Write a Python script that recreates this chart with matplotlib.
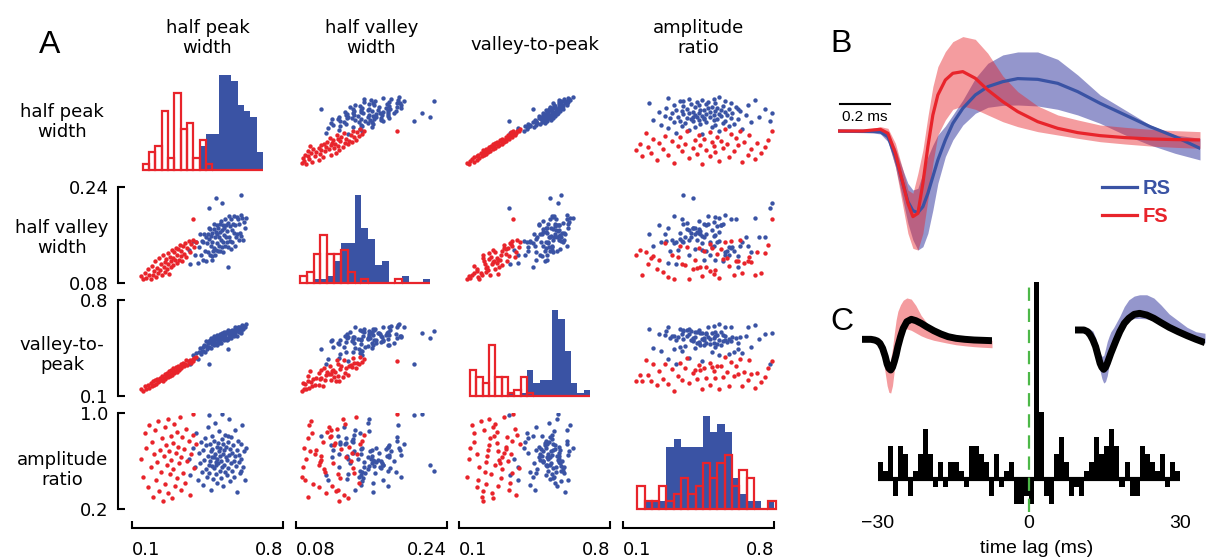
#!/usr/bin/env python3

import numpy as np
import matplotlib
matplotlib.use('Agg')
import matplotlib.pyplot as plt

# canvas in pixels, saved at dpi 100
W = 1207
H = 560

RED = '#E8242B'
BLUE = '#3A53A4'
BAND_BLUE = '#2B2E9A'
GREEN = '#4DB848'

# ---- spike waveform features, one entry per unit
# FS units (red)
fs_hpw = [0.142, 0.151, 0.158, 0.167, 0.174, 0.181, 0.188, 0.193, 0.199, 0.204,
	0.207, 0.213, 0.218, 0.222, 0.227, 0.231, 0.236, 0.239, 0.244, 0.247,
	0.251, 0.254, 0.258, 0.262, 0.265, 0.268, 0.272, 0.275, 0.279, 0.283,
	0.286, 0.289, 0.292, 0.296, 0.299, 0.303, 0.307, 0.310, 0.314, 0.318,
	0.322, 0.325, 0.329, 0.334, 0.338, 0.343, 0.348, 0.352, 0.357, 0.362,
	0.368, 0.374, 0.381, 0.388, 0.397, 0.383]
fs_hvw = [0.091, 0.086, 0.097, 0.088, 0.104, 0.094, 0.087, 0.109, 0.093, 0.100,
	0.117, 0.090, 0.105, 0.096, 0.122, 0.101, 0.111, 0.093, 0.126, 0.107,
	0.115, 0.098, 0.120, 0.104, 0.130, 0.112, 0.095, 0.124, 0.117, 0.106,
	0.135, 0.121, 0.110, 0.132, 0.118, 0.139, 0.113, 0.127, 0.136, 0.119,
	0.144, 0.125, 0.133, 0.116, 0.141, 0.128, 0.147, 0.123, 0.138, 0.150,
	0.131, 0.145, 0.152, 0.140, 0.148, 0.187]
fs_vtp = [0.148, 0.139, 0.171, 0.152, 0.183, 0.161, 0.195, 0.170, 0.206, 0.183,
	0.214, 0.190, 0.223, 0.201, 0.212, 0.234, 0.219, 0.246, 0.213, 0.232,
	0.258, 0.226, 0.241, 0.266, 0.237, 0.252, 0.279, 0.248, 0.262, 0.287,
	0.256, 0.274, 0.301, 0.268, 0.283, 0.309, 0.276, 0.296, 0.318, 0.289,
	0.307, 0.331, 0.301, 0.322, 0.344, 0.317, 0.335, 0.359, 0.328, 0.348,
	0.362, 0.341, 0.369, 0.376, 0.384, 0.352]
fs_amp = [0.62, 0.47, 0.83, 0.71, 0.38, 0.90, 0.55, 0.76, 0.30, 0.66,
	0.86, 0.44, 0.59, 0.93, 0.35, 0.69, 0.51, 0.79, 0.27, 0.64,
	0.88, 0.41, 0.73, 0.57, 0.95, 0.33, 0.68, 0.49, 0.81, 0.61,
	0.29, 0.75, 0.53, 0.91, 0.39, 0.67, 0.84, 0.46, 0.72, 0.58,
	0.97, 0.36, 0.63, 0.80, 0.50, 0.70, 0.42, 0.87, 0.60, 0.77,
	0.32, 0.66, 0.82, 0.54, 0.74, 0.99]

# RS units (blue)
rs_hpw = [0.362, 0.371, 0.383, 0.392, 0.398, 0.405, 0.411, 0.416, 0.420, 0.424,
	0.428, 0.431, 0.435, 0.438, 0.441, 0.444, 0.447, 0.450, 0.452, 0.455,
	0.457, 0.460, 0.462, 0.464, 0.467, 0.469, 0.471, 0.473, 0.476, 0.478,
	0.480, 0.482, 0.484, 0.486, 0.488, 0.490, 0.492, 0.494, 0.496, 0.498,
	0.500, 0.502, 0.504, 0.506, 0.508, 0.510, 0.512, 0.514, 0.516, 0.518,
	0.520, 0.522, 0.524, 0.526, 0.528, 0.530, 0.532, 0.535, 0.537, 0.539,
	0.541, 0.543, 0.546, 0.548, 0.550, 0.553, 0.555, 0.558, 0.560, 0.563,
	0.565, 0.568, 0.571, 0.573, 0.576, 0.579, 0.582, 0.585, 0.588, 0.591,
	0.594, 0.597, 0.600, 0.603, 0.607, 0.611, 0.615, 0.619, 0.624, 0.629,
	0.458, 0.472, 0.489, 0.517, 0.544, 0.603]
rs_hvw = [0.135, 0.112, 0.150, 0.126, 0.148, 0.114, 0.140, 0.161, 0.127, 0.150,
	0.119, 0.149, 0.162, 0.133, 0.156, 0.117, 0.147, 0.161, 0.131, 0.172,
	0.153, 0.127, 0.170, 0.142, 0.158, 0.125, 0.163, 0.149, 0.134, 0.179,
	0.139, 0.170, 0.126, 0.156, 0.165, 0.135, 0.177, 0.146, 0.162, 0.133,
	0.171, 0.141, 0.157, 0.178, 0.134, 0.165, 0.151, 0.184, 0.140, 0.169,
	0.149, 0.177, 0.132, 0.172, 0.160, 0.141, 0.186, 0.156, 0.177, 0.149,
	0.167, 0.140, 0.180, 0.157, 0.191, 0.150, 0.175, 0.137, 0.187, 0.168,
	0.148, 0.179, 0.163, 0.191, 0.142, 0.176, 0.157, 0.190, 0.162, 0.187,
	0.152, 0.179, 0.164, 0.194, 0.159, 0.188, 0.152, 0.181, 0.172, 0.189,
	0.205, 0.118, 0.222, 0.214, 0.106, 0.226]
rs_vtp = [0.353, 0.335, 0.402, 0.375, 0.413, 0.373, 0.421, 0.448, 0.404, 0.430,
	0.455, 0.429, 0.475, 0.419, 0.463, 0.498, 0.442, 0.486, 0.459, 0.503,
	0.456, 0.510, 0.491, 0.453, 0.525, 0.486, 0.508, 0.479, 0.521, 0.473,
	0.504, 0.535, 0.477, 0.518, 0.490, 0.531, 0.472, 0.514, 0.545, 0.497,
	0.528, 0.489, 0.541, 0.512, 0.554, 0.505, 0.536, 0.488, 0.529, 0.551,
	0.512, 0.553, 0.535, 0.506, 0.568, 0.529, 0.550, 0.523, 0.564, 0.505,
	0.557, 0.518, 0.580, 0.552, 0.533, 0.575, 0.547, 0.569, 0.520, 0.562,
	0.584, 0.546, 0.578, 0.539, 0.601, 0.563, 0.575, 0.538, 0.590, 0.602,
	0.564, 0.606, 0.588, 0.600, 0.563, 0.616, 0.589, 0.611, 0.605, 0.628,
	0.330, 0.510, 0.520, 0.560, 0.445, 0.575]
rs_amp = [0.62, 0.48, 0.71, 0.55, 0.83, 0.44, 0.67, 0.58, 0.76, 0.51,
	0.69, 0.40, 0.61, 0.79, 0.53, 0.73, 0.47, 0.64, 0.88, 0.57,
	0.50, 0.74, 0.60, 0.36, 0.68, 0.81, 0.56, 0.70, 0.45, 0.63,
	0.77, 0.54, 0.66, 0.92, 0.59, 0.49, 0.72, 0.62, 0.42, 0.75,
	0.58, 0.68, 0.85, 0.52, 0.64, 0.71, 0.46, 0.60, 0.78, 0.55,
	0.66, 0.39, 0.74, 0.57, 0.69, 0.82, 0.51, 0.63, 0.72, 0.48,
	0.61, 0.76, 0.54, 0.95, 0.65, 0.43, 0.70, 0.58, 0.80, 0.67,
	0.52, 0.73, 0.60, 0.47, 0.86, 0.64, 0.56, 0.69, 0.34, 0.77,
	0.59, 0.65, 0.50, 0.74, 0.62, 0.90, 0.55, 0.68, 0.44, 0.71,
	0.98, 0.63, 0.57, 0.99, 0.81, 0.52]

rowNames = ['half peak\nwidth', 'half valley\nwidth', 'valley-to-\npeak', 'amplitude\nratio']
colTitles = ['half peak\nwidth', 'half valley\nwidth', 'valley-to-peak', 'amplitude\nratio']
featureLims = [(0.1, 0.8), (0.08, 0.24), (0.1, 0.8), (0.2, 1.0)]
xTickText = [['0.1', '0.8'], ['0.08', '0.24'], ['0.1', '0.8'], ['0.1', '0.8']]
yTickText = [None, ['0.08', '0.24'], ['0.1', '0.8'], ['0.2', '1.0']]

# diagonal histograms: first edge, bin width and counts per bin
histStart = [0.15, 0.0843, 0.151, 0.276]
histWidth = [0.0293, 0.00722, 0.0293, 0.0386]
histFS = [
	[1, 3, 4, 10, 2, 13, 7, 8, 2, 5, 1, 0, 0, 0, 0, 0, 0, 0, 0],
	[2, 3, 8, 13, 8, 8, 9, 3, 0, 1, 0, 0, 0, 0, 1, 0, 0, 0, 0],
	[8, 6, 4, 16, 6, 6, 1, 2, 6, 1, 0, 0, 0, 0, 0, 0, 0, 0, 0],
	[3, 1, 1, 3, 1, 2, 4, 2, 3, 6, 4, 6, 7, 3, 5, 4, 0, 0, 1]]
histRS = [
	[0, 0, 0, 0, 0, 0, 0, 0, 0, 4, 6, 6, 16, 16, 15, 11, 10, 9, 3],
	[0, 0, 1, 1, 2, 6, 11, 11, 24, 15, 12, 5, 6, 0, 0, 2, 0, 0, 1],
	[0, 0, 0, 0, 0, 0, 1, 0, 1, 8, 4, 5, 5, 27, 24, 14, 4, 1, 2],
	[0, 1, 1, 1, 8, 9, 8, 8, 8, 12, 10, 11, 10, 4, 2, 1, 1, 0, 1]]
histTop = [16.2, 26.2, 30.0, 12.4]

# ---- mean waveforms (normalised to trough), time in ms
waveT = [0.00, 0.10, 0.14, 0.17, 0.20, 0.23, 0.26, 0.28, 0.30, 0.32,
	0.34, 0.36, 0.38, 0.40, 0.43, 0.46, 0.50, 0.55, 0.60, 0.66,
	0.72, 0.80, 0.88, 0.96, 1.05, 1.15, 1.25, 1.35, 1.45]
fsMean = [0.000, 0.000, 0.012, 0.020, -0.028, -0.269, -0.631, -0.871, -1.032, -0.992,
	-0.631, -0.189, 0.193, 0.434, 0.614, 0.695, 0.715, 0.635, 0.494, 0.353,
	0.233, 0.112, 0.032, -0.020, -0.056, -0.080, -0.096, -0.104, -0.108]
fsHigh = [0.012, 0.012, 0.032, 0.052, 0.032, -0.149, -0.470, -0.711, -0.751, -0.510,
	-0.229, 0.173, 0.534, 0.775, 0.956, 1.076, 1.137, 1.104, 0.936, 0.663,
	0.474, 0.301, 0.193, 0.133, 0.072, 0.044, 0.020, 0.004, -0.008]
fsLow = [-0.012, -0.016, -0.020, -0.012, -0.108, -0.430, -0.912, -1.233, -1.414, -1.434,
	-1.233, -0.831, -0.390, -0.048, 0.133, 0.261, 0.301, 0.261, 0.193, 0.112,
	0.052, -0.008, -0.048, -0.088, -0.129, -0.157, -0.181, -0.197, -0.209]
rsMean = [0.000, -0.004, -0.004, -0.012, -0.068, -0.309, -0.631, -0.851, -0.960, -0.984,
	-0.912, -0.751, -0.550, -0.349, -0.108, 0.092, 0.273, 0.434, 0.534, 0.594,
	0.631, 0.622, 0.574, 0.474, 0.333, 0.193, 0.052, -0.068, -0.209]
rsHigh = [0.012, 0.008, 0.012, 0.020, -0.028, -0.209, -0.470, -0.631, -0.711, -0.691,
	-0.510, -0.309, -0.169, -0.048, 0.060, 0.193, 0.373, 0.635, 0.815, 0.916,
	0.952, 0.952, 0.863, 0.675, 0.434, 0.253, 0.072, -0.048, -0.088]
rsLow = [-0.016, -0.020, -0.024, -0.036, -0.129, -0.430, -0.831, -1.112, -1.313, -1.434,
	-1.394, -1.233, -0.952, -0.631, -0.309, -0.108, 0.072, 0.213, 0.285, 0.309,
	0.313, 0.301, 0.261, 0.193, 0.092, -0.048, -0.169, -0.269, -0.349]

# the two example units of the pair
fsUnit = [0.018, 0.018, 0.000, -0.027, -0.090, -0.225, -0.450, -0.649, -0.766, -0.811,
	-0.739, -0.586, -0.405, -0.180, 0.090, 0.315, 0.495, 0.559, 0.523, 0.450,
	0.360, 0.252, 0.162, 0.090, 0.045, 0.018, 0.000, -0.009, -0.018]
rsUnit = [0.000, 0.000, -0.045, -0.135, -0.270, -0.450, -0.721, -0.901, -1.009, -1.063,
	-1.009, -0.901, -0.766, -0.631, -0.450, -0.270, -0.045, 0.180, 0.315, 0.423,
	0.450, 0.405, 0.315, 0.198, 0.072, -0.045, -0.153, -0.252, -0.342]

# cross-correlogram, 1 ms bins from -30 to +30 ms, baseline subtracted
ccgCounts = [2, 1, 4, -2, 4, 3, -2, 1, 3, 6,
	3, -1, 2, -1, 2, 2, 1, -1, 4, 4,
	3, 2, -2, 3, -1, 1, 2, -3, -3, -2,
	-3, 24, 8, -2, -3, 3, 5, 2, -2, -1,
	-2, 1, 2, 5, 3, 4, 6, 4, -1, 2,
	-2, -2, 4, 3, 2, 1, 3, -1, 2, 1]


def pxAxes(fig, x0, y0, x1, y1):
	# axes from a pixel box, origin top left
	ax = fig.add_axes([x0 / W, 1 - y1 / H, (x1 - x0) / W, (y1 - y0) / H])
	ax.patch.set_alpha(0)
	return ax


def pxText(fig, x, y, s, **kw):
	return fig.text(x / W, 1 - y / H, s, **kw)


def main():
	fig = plt.figure(figsize=(W / 100, H / 100), dpi=100)

	sansA = 'DejaVu Sans'
	sansB = 'Liberation Sans'

	feats = [(fs_hpw, rs_hpw), (fs_hvw, rs_hvw), (fs_vtp, rs_vtp), (fs_amp, rs_amp)]
	colLeft = [132, 296, 459, 623]
	rowTop = [74, 187, 300, 413]
	cellW = 151
	cellH = 96

	# ---- A: scatter matrix
	for row in range(4):
		for col in range(4):
			ax = pxAxes(fig, colLeft[col], rowTop[row], colLeft[col] + cellW, rowTop[row] + cellH)
			ax.set_xlim(featureLims[col])
			if row == col:
				nBins = len(histFS[col])
				edges = histStart[col] + histWidth[col] * np.arange(nBins)
				ax.bar(edges, histRS[col], width=histWidth[col], align='edge',
					color=BLUE, linewidth=0, zorder=1)
				ax.bar(edges, histFS[col], width=histWidth[col], align='edge',
					fill=False, edgecolor=RED, linewidth=1.6, zorder=2, clip_on=False)
				ax.set_ylim(0, histTop[col])
			else:
				ax.scatter(feats[col][1], feats[row][1], s=10, color=BLUE, linewidths=0)
				ax.scatter(feats[col][0], feats[row][0], s=10, color=RED, linewidths=0)
				ax.set_ylim(featureLims[row])

			for side in ['top', 'right', 'left', 'bottom']:
				ax.spines[side].set_visible(False)
			ax.set_xticks([])
			ax.set_yticks([])

			if col == 0 and row > 0:
				ax.spines['left'].set_visible(True)
				ax.spines['left'].set_position(('outward', 10))
				ax.spines['left'].set_linewidth(1.5)
				ax.set_yticks(featureLims[row], labels=yTickText[row])
				ax.tick_params(axis='y', direction='in', length=5, width=1.5,
					pad=7, labelsize=13)
				for lab in ax.get_yticklabels():
					lab.set_family(sansA)

			if row == 3:
				ax.spines['bottom'].set_visible(True)
				ax.spines['bottom'].set_position(('outward', 14))
				ax.spines['bottom'].set_linewidth(1.5)
				ax.set_xticks(featureLims[col], labels=xTickText[col])
				ax.tick_params(axis='x', direction='in', length=5, width=1.5,
					pad=9, labelsize=13)
				labs = ax.get_xticklabels()
				labs[0].set_ha('left')
				labs[-1].set_ha('right')
				for lab in labs:
					lab.set_family(sansA)

	colTitleY = [38, 38, 45, 38]
	for col in range(4):
		pxText(fig, colLeft[col] + cellW / 2, colTitleY[col], colTitles[col], ha='center',
			va='center', fontsize=13, family=sansA, linespacing=1.15)
	rowLabelY = [122, 238, 355, 470]
	for row in range(4):
		pxText(fig, 62, rowLabelY[row], rowNames[row], ha='center', va='center',
			fontsize=13, family=sansA, linespacing=1.15)

	# ---- B: mean waveforms with spread
	axB = pxAxes(fig, 838, 29.7, 1200, 255.5)
	axB.fill_between(waveT, rsLow, rsHigh, color=BAND_BLUE, alpha=0.5, linewidth=0)
	axB.fill_between(waveT, fsLow, fsHigh, color=RED, alpha=0.45, linewidth=0)
	axB.plot(waveT, rsMean, color=BLUE, lw=2.3, label='RS')
	axB.plot(waveT, fsMean, color=RED, lw=2.3, label='FS')
	axB.set_xlim(0, 1.45)
	axB.set_ylim(-1.5, 1.22)
	axB.axis('off')
	# 0.2 ms scale bar
	axB.plot([0.008, 0.208], [0.325, 0.325], color='black', lw=1.5)
	axB.text(0.108, 0.17, '0.2 ms', ha='center', va='center', fontsize=11, family=sansB)
	axB.legend(loc='center left', bbox_to_anchor=(0.728, 0.235), frameon=False,
		handlelength=1.75, handletextpad=0.3, labelspacing=0.45, borderpad=0,
		borderaxespad=0, labelcolor='linecolor',
		prop={'family': sansB, 'weight': 'bold', 'size': 14.5})

	# ---- C: cross-correlogram of the pair
	axC = pxAxes(fig, 868, 282, 1205, 512)
	lags = np.arange(-30, 30)
	axC.bar(lags, ccgCounts, width=1, align='edge', color='black', linewidth=0)
	axC.hlines(0, lags[0], lags[-1] + 1, color='black', lw=3)
	axC.axvline(0, color=GREEN, lw=1.6, ls=(0, (6, 3.5)))
	axC.set_xlim(-32, 35)
	axC.set_ylim(-3.96, 23.65)
	for side in ['top', 'right', 'left', 'bottom']:
		axC.spines[side].set_visible(False)
	axC.set_yticks([])
	axC.set_xticks([-30, 0, 30])
	axC.tick_params(axis='x', length=0, pad=2, labelsize=14)
	for lab in axC.get_xticklabels():
		lab.set_family(sansB)
	axC.set_xlabel('time lag (ms)', fontsize=14, family=sansB, labelpad=6)

	# waveform insets: example unit over its class spread
	axL = pxAxes(fig, 862, 293.75, 992, 395.5)
	axL.fill_between(waveT, fsLow, fsHigh, color=RED, alpha=0.45, linewidth=0)
	axL.plot(waveT, fsUnit, color='black', lw=5, solid_capstyle='butt')
	axR = pxAxes(fig, 1075, 283.75, 1205, 385.5)
	axR.fill_between(waveT, rsLow, rsHigh, color=BAND_BLUE, alpha=0.5, linewidth=0)
	axR.plot(waveT, rsUnit, color='black', lw=5, solid_capstyle='butt')
	for ax in [axL, axR]:
		ax.set_xlim(0, 1.45)
		ax.set_ylim(-1.5, 1.25)
		ax.axis('off')

	# panel letters
	pxText(fig, 50, 45, 'A', ha='center', va='center', fontsize=23, family=sansB)
	pxText(fig, 841, 44, 'B', ha='center', va='center', fontsize=23, family=sansB)
	pxText(fig, 842, 322, 'C', ha='center', va='center', fontsize=23, family=sansB)

	fig.savefig('out.png', dpi=100)
	plt.close(fig)


if __name__ == '__main__':
	main()
